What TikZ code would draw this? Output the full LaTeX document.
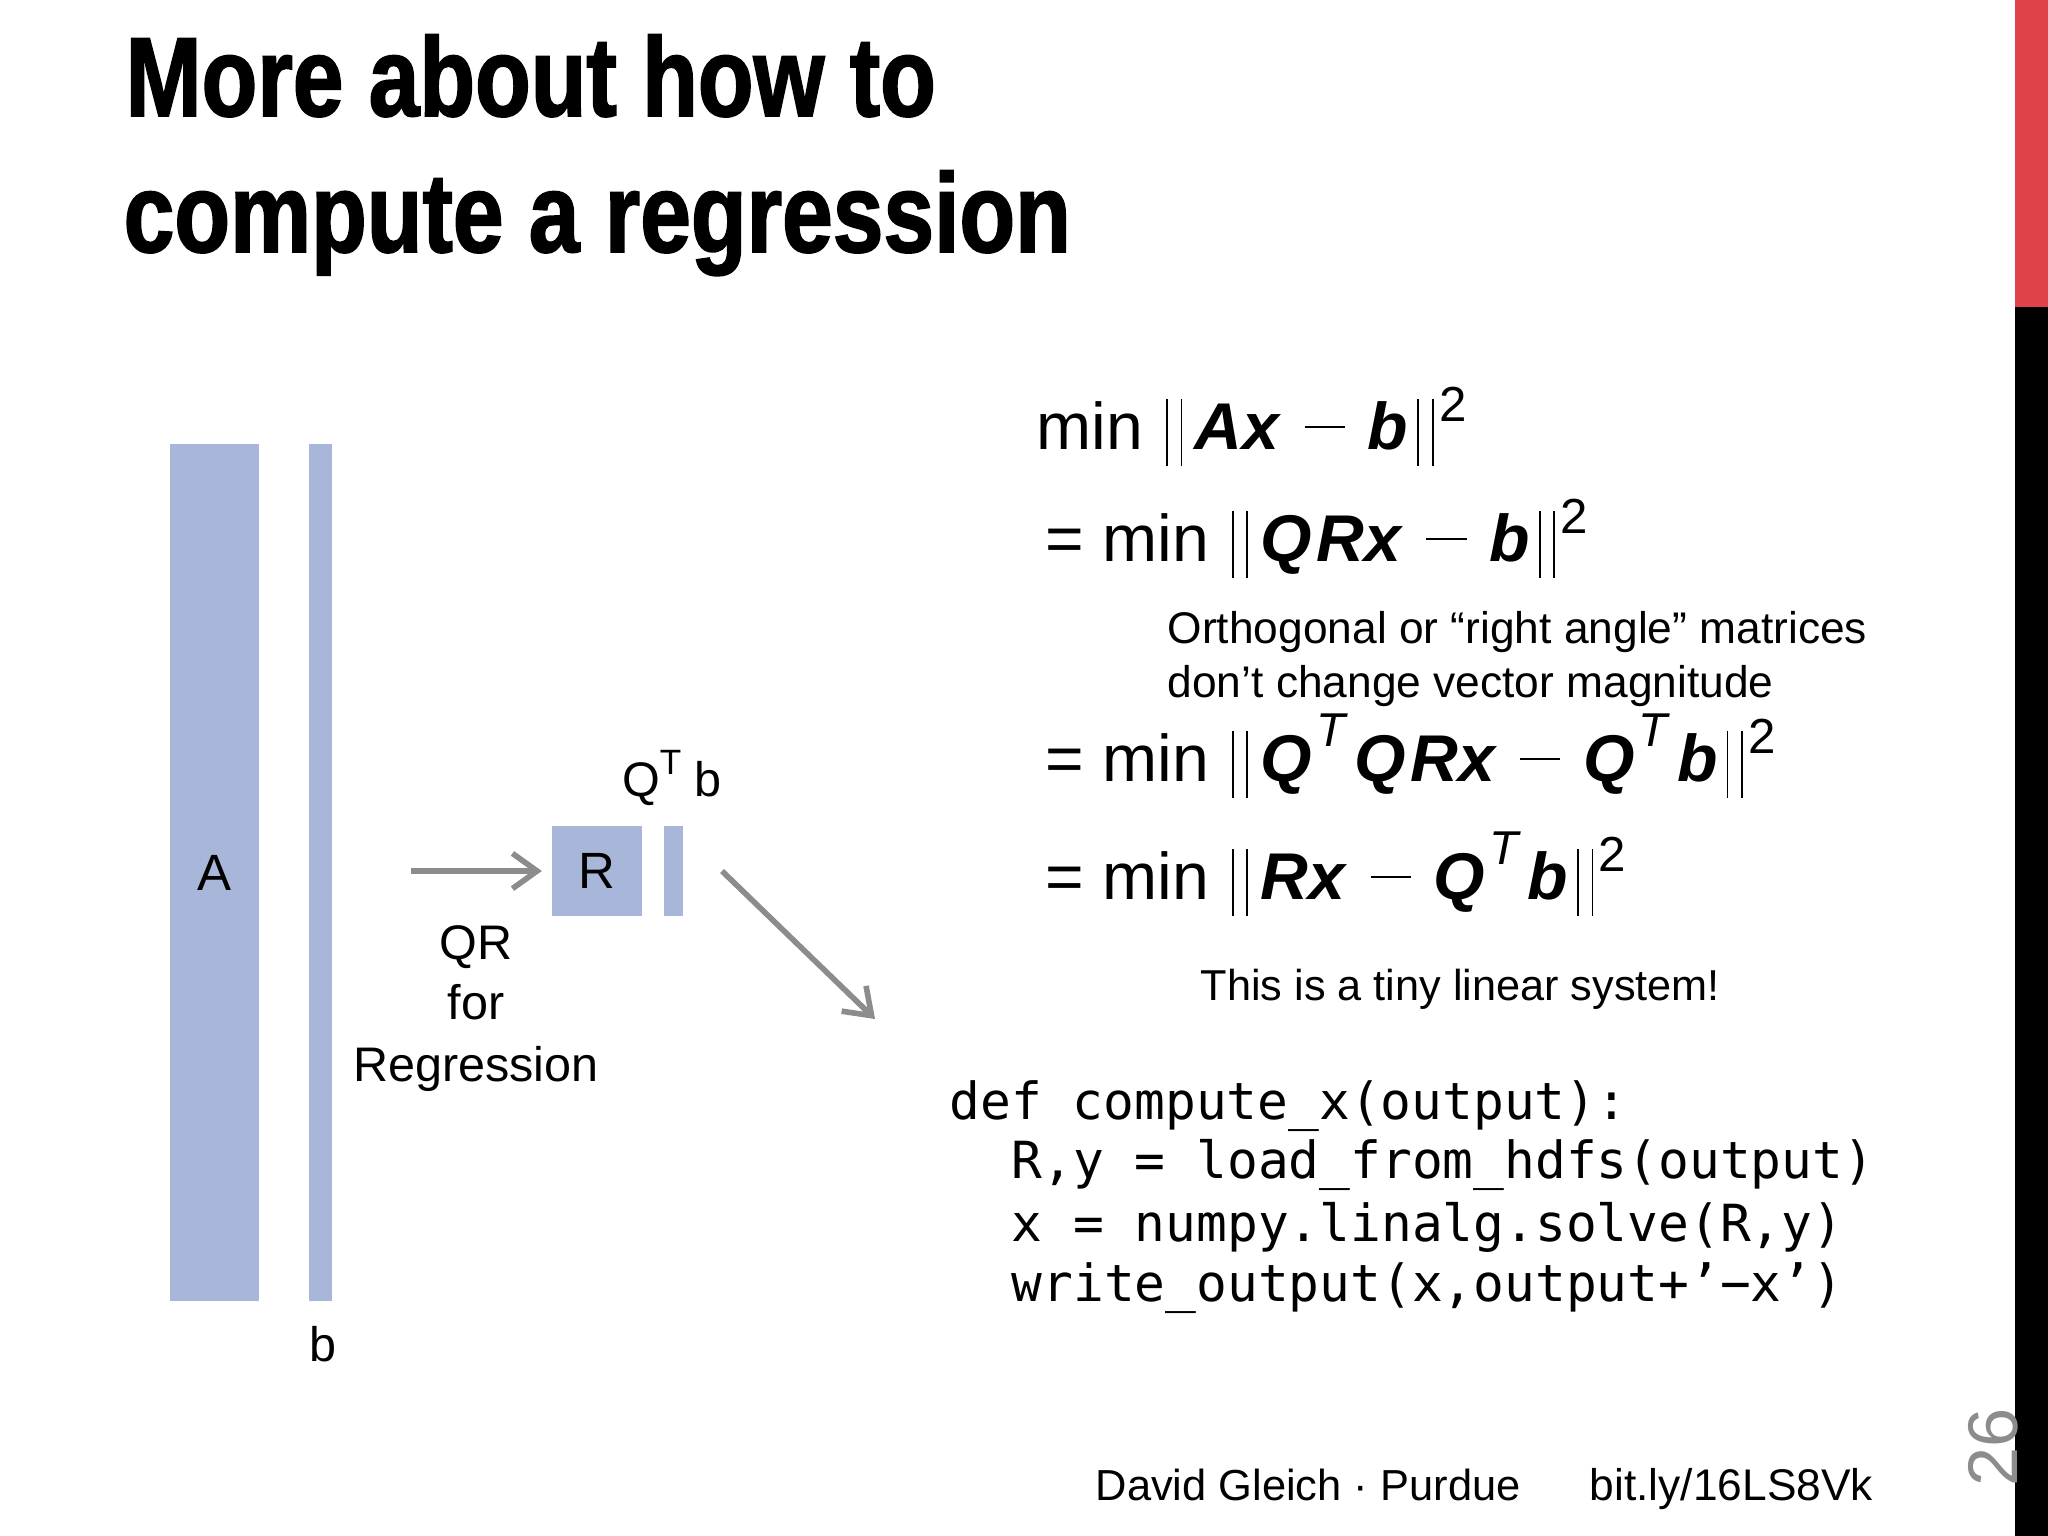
\documentclass[tikz,border=0pt]{standalone}
\usepackage{xcolor}
\usepackage{fontspec}
\usetikzlibrary{arrows.meta}
\setmainfont{Liberation Sans}
\setmonofont{DejaVu Sans Mono}
\definecolor{slideblue}{HTML}{A8B6D9}
\definecolor{slidegray}{HTML}{8C8C8C}
\definecolor{slidered}{HTML}{E0424A}
\newfontfamily\titlefont[FakeStretch=0.81,FakeBold=1.5]{Liberation Sans Bold}
\newcommand{\normbar}{\rule[-4.8pt]{0.5pt}{19pt}\kern3.6pt\rule[-4.8pt]{0.5pt}{19pt}}
\newcommand{\openbar}{\kern6.5pt\normbar\kern3.6pt}
\newcommand{\shutbar}{\kern2.6pt\normbar\kern1.6pt}
\newcommand{\minusbar}{\kern6.5pt\rule[6pt]{11.5pt}{0.5pt}\kern6.5pt}
\newcommand{\bv}[1]{\textbf{\textit{#1}}}
\newcommand{\bq}{\bv{Q}\kern1.2pt}
\newcommand{\powr}[1]{\raisebox{7.9pt}{\fontsize{14}{14}\selectfont #1}}
\newcommand{\trsp}{\raisebox{9.7pt}{\fontsize{13.5}{14}\selectfont\textit{T}}\kern1.8pt}
\tikzset{
    barbox/.style={fill=slideblue, inner sep=0pt, font=\fontsize{14.5}{16}\selectfont},
    eqline/.style={anchor=base west, inner sep=0pt, font=\fontsize{18.8}{22}\selectfont},
    notetext/.style={anchor=base west, inner sep=0pt, font=\fontsize{12.6}{15}\selectfont},
    labeltext/.style={anchor=base, inner sep=0pt, font=\fontsize{13.8}{16}\selectfont},
    codeline/.style={anchor=base west, inner sep=0pt, font=\ttfamily\fontsize{14.55}{17}\selectfont},
    titleline/.style={anchor=base west, inner sep=0pt, font=\titlefont\fontsize{32}{38}\selectfont},
    flowarrow/.style={draw=slidegray, line width=1.6pt, -{Straight Barb[length=7pt,width=10pt,line width=1.6pt]}}
}

\begin{document}
\begin{tikzpicture}[x=0.01cm, y=-0.01cm]
    \useasboundingbox (0,0) rectangle (2048,1536);

    \fill[slidered] (2015,0) rectangle (2048,307);
    \fill[black] (2015,307) rectangle (2048,1536);

    \node[titleline] (title1) at (125,116) {More about how to};
    \node[titleline] (title2) at (123,252) {compute a regression};

    \node[barbox, minimum width=0.89cm, minimum height=8.57cm] (A) at (214.5,872.5) {\raisebox{-0.8pt}{A}};
    \node[barbox, minimum width=0.23cm, minimum height=8.57cm] (b) at (320.5,872.5) {};
    \node[labeltext] (blabel) at (323,1361) {b};
    \node[barbox, minimum width=0.89cm, minimum height=0.89cm] (R) at (597,871) {\raisebox{-0.8pt}{R}};
    \node[barbox, minimum width=0.19cm, minimum height=0.89cm] (Qtb) at (673.5,871) {};
    \node[labeltext] (Qtblabel) at (672,796) {Q\raisebox{6pt}{\fontsize{10}{10}\selectfont T} b};

    \node[labeltext] (qr) at (476,959) {QR};
    \node[labeltext] (for) at (476,1019) {for};
    \node[labeltext] (regression) at (476,1081) {Regression};

    \coordinate (qrstart) at (411,871);
    \coordinate (solvestart) at (722,871);
    \coordinate (solveend) at (875,1019);
    \draw[flowarrow, shorten >=2.8pt] (qrstart) -- (R);
    \draw[flowarrow] (solvestart) -- (solveend);

    \node[eqline] (eq1) at (1036,449) {min\openbar\bv{Ax}\minusbar\bv{b}\shutbar\powr{2}};
    \node[eqline] (eq2) at (1045,561) {= min\openbar\bq\bv{Rx}\minusbar\bv{b}\shutbar\powr{2}};
    \node[notetext] (note1) at (1167,643) {Orthogonal or “right angle” matrices};
    \node[notetext] (note2) at (1167,697) {don’t change vector magnitude};
    \node[eqline] (eq3) at (1045,781) {= min\openbar\bq\trsp\bq\bv{Rx}\minusbar\bq\trsp\bv{b}\shutbar\powr{2}};
    \node[eqline] (eq4) at (1045,899) {= min\openbar\bv{Rx}\minusbar\bq\trsp\bv{b}\shutbar\powr{2}};
    \node[notetext, font=\fontsize{12.3}{15}\selectfont] (note3) at (1200,1000) {This is a tiny linear system!};

    \node[codeline] (code1) at (949,1119) {def compute\_x(output):};
    \node[codeline] (code2) at (1011,1178) {R,y = load\_from\_hdfs(output)};
    \node[codeline] (code3) at (1011,1241) {x = numpy.linalg.solve(R,y)};
    \node[codeline] (code4) at (1011,1301) {write\_output(x,output+’−x’)};

    \node[notetext, font=\fontsize{12.35}{15}\selectfont] (footer1) at (1095,1500) {David Gleich · Purdue};
    \node[notetext] (footer2) at (1589,1500) {bit.ly/16LS8Vk};
    \node[anchor=base, inner sep=0pt, rotate=90, text=slidegray, font=\fontsize{20}{24}\selectfont] (pagenum) at (2017,1447) {26};
\end{tikzpicture}
\end{document}
